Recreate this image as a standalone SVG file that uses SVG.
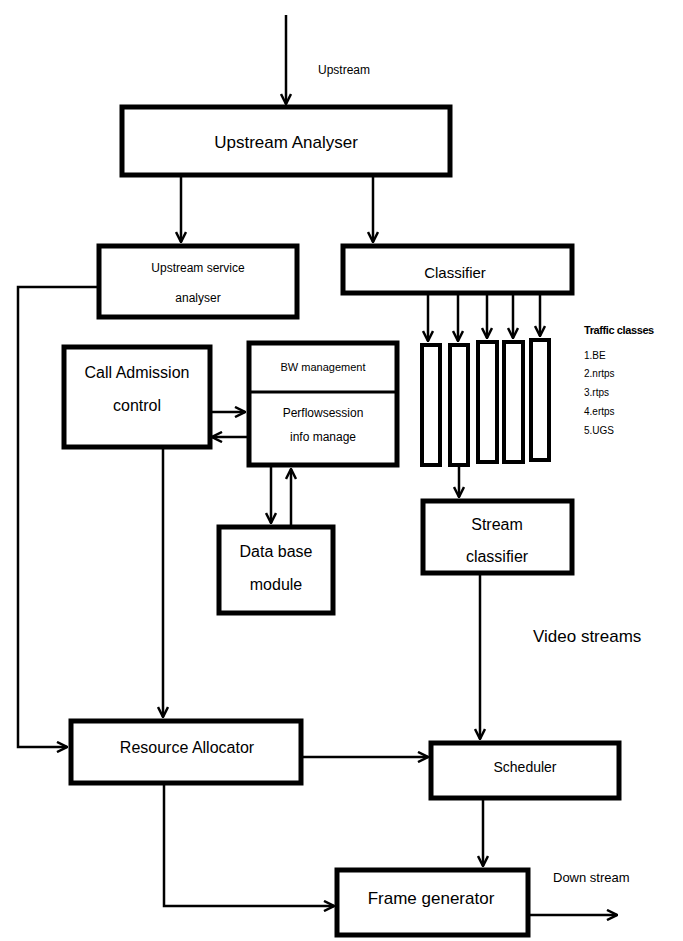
<svg xmlns="http://www.w3.org/2000/svg" width="683" height="941" viewBox="0 0 683 941">
<style>
.box{fill:#fff;stroke:#000;stroke-width:5}
.q{fill:#fff;stroke:#000;stroke-width:4}
.c{fill:none;stroke:#000;stroke-width:2.5}
.t{font-family:"Liberation Sans",Arial,sans-serif;fill:#000;text-anchor:middle}
.l{font-family:"Liberation Sans",Arial,sans-serif;fill:#000}
</style>
<defs>
<marker id="ah" viewBox="0 0 12 12" refX="11" refY="6" markerWidth="12" markerHeight="12" orient="auto" markerUnits="userSpaceOnUse">
<path d="M1,1 L11,6 L1,11" fill="none" stroke="#000" stroke-width="2.5"/>
</marker>
</defs>
<rect width="683" height="941" fill="#fff"/>
<g id="connectors">
<line class="c" x1="286" y1="15" x2="286" y2="104" marker-end="url(#ah)"/>
<line class="c" x1="181" y1="176" x2="181" y2="242" marker-end="url(#ah)"/>
<line class="c" x1="373" y1="176" x2="373" y2="242" marker-end="url(#ah)"/>
<line class="c" x1="428" y1="294" x2="428" y2="341" marker-end="url(#ah)"/>
<line class="c" x1="458" y1="294" x2="458" y2="341" marker-end="url(#ah)"/>
<line class="c" x1="487" y1="294" x2="487" y2="338" marker-end="url(#ah)"/>
<line class="c" x1="513" y1="294" x2="513" y2="338" marker-end="url(#ah)"/>
<line class="c" x1="540" y1="294" x2="540" y2="336" marker-end="url(#ah)"/>
<line class="c" x1="459" y1="467" x2="459" y2="497" marker-end="url(#ah)"/>
<line class="c" x1="211" y1="412" x2="245" y2="412" marker-end="url(#ah)"/>
<line class="c" x1="248" y1="437" x2="212" y2="437" marker-end="url(#ah)"/>
<line class="c" x1="271" y1="466" x2="271" y2="523" marker-end="url(#ah)"/>
<line class="c" x1="291" y1="526" x2="291" y2="469" marker-end="url(#ah)"/>
<polyline class="c" points="97,287 18,287 18,747 67,747" marker-end="url(#ah)"/>
<line class="c" x1="163" y1="448" x2="163" y2="717" marker-end="url(#ah)"/>
<line class="c" x1="480" y1="574" x2="480" y2="739" marker-end="url(#ah)"/>
<line class="c" x1="302" y1="757" x2="428" y2="757" marker-end="url(#ah)"/>
<polyline class="c" points="164,784 164,906 334,906" marker-end="url(#ah)"/>
<line class="c" x1="483" y1="799" x2="483" y2="866" stroke-width="3.5" marker-end="url(#ah)"/>
<line class="c" x1="529" y1="915" x2="617" y2="915" stroke-width="4" marker-end="url(#ah)"/>
</g>
<g id="upstream-analyser">
<rect class="box" x="122" y="107" width="328" height="68"/>
<text class="t" x="286" y="148" font-size="17">Upstream Analyser</text>
</g>
<g id="upstream-service-analyser">
<rect class="box" x="99" y="246" width="198" height="71"/>
<text class="t" x="198" y="272" font-size="12">Upstream service</text>
<text class="t" x="198" y="302" font-size="12">analyser</text>
</g>
<g id="classifier">
<rect class="box" x="343" y="246" width="229" height="47"/>
<text class="t" x="455" y="278" font-size="15">Classifier</text>
</g>
<g id="queues">
<rect class="q" x="422" y="345" width="18" height="120"/>
<rect class="q" x="450" y="345" width="18" height="120"/>
<rect class="q" x="478" y="342" width="19" height="120"/>
<rect class="q" x="504" y="342" width="19" height="120"/>
<rect class="q" x="531" y="340" width="18" height="120"/>
</g>
<g id="traffic-classes">
<text class="l" x="584" y="334" font-size="11" font-weight="bold" letter-spacing="-0.4">Traffic classes</text>
<text class="l" x="584" y="359" font-size="10">1.BE</text>
<text class="l" x="584" y="377" font-size="10">2.nrtps</text>
<text class="l" x="584" y="396" font-size="10">3.rtps</text>
<text class="l" x="584" y="415" font-size="10">4.ertps</text>
<text class="l" x="584" y="434" font-size="10">5.UGS</text>
</g>
<g id="call-admission-control">
<rect class="box" x="64" y="347" width="146" height="100"/>
<text class="t" x="137" y="378" font-size="16">Call Admission</text>
<text class="t" x="137" y="411" font-size="16">control</text>
</g>
<g id="bw-management">
<rect class="box" x="249" y="343" width="148" height="122"/>
<line x1="249" y1="392" x2="397" y2="392" stroke="#000" stroke-width="3"/>
<text class="t" x="323" y="371" font-size="11">BW management</text>
<text class="t" x="323" y="417" font-size="12">Perflowsession</text>
<text class="t" x="323" y="441" font-size="12">info manage</text>
</g>
<g id="database-module">
<rect class="box" x="219" y="527" width="114" height="86"/>
<text class="t" x="276" y="557" font-size="16">Data base</text>
<text class="t" x="276" y="590" font-size="16">module</text>
</g>
<g id="stream-classifier">
<rect class="box" x="423" y="501" width="149" height="72"/>
<text class="t" x="497" y="530" font-size="16">Stream</text>
<text class="t" x="497" y="562" font-size="16">classifier</text>
</g>
<g id="resource-allocator">
<rect class="box" x="71" y="721" width="230" height="62"/>
<text class="t" x="187" y="753" font-size="16">Resource Allocator</text>
</g>
<g id="scheduler">
<rect class="box" x="431" y="743" width="188" height="55"/>
<text class="t" x="525" y="772" font-size="14">Scheduler</text>
</g>
<g id="frame-generator">
<rect class="box" x="337" y="870" width="191" height="65"/>
<text class="t" x="431" y="904" font-size="17">Frame generator</text>
</g>
<g id="labels">
<text class="l" x="318" y="74" font-size="12">Upstream</text>
<text class="l" x="533" y="642" font-size="17">Video streams</text>
<text class="l" x="553" y="882" font-size="13">Down stream</text>
</g>
</svg>
